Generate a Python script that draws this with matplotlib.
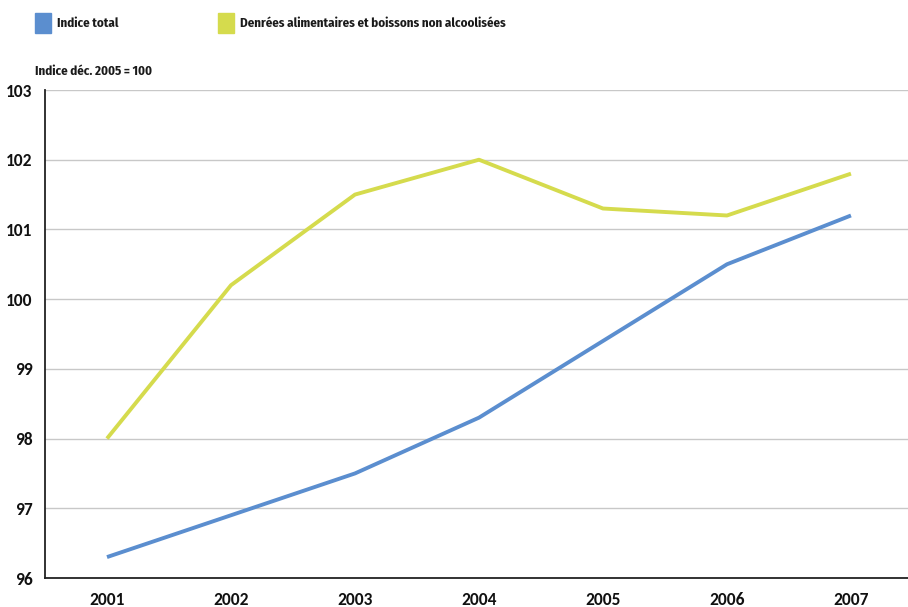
import matplotlib.pyplot as plt
from matplotlib.patches import Rectangle

years = ['2001', '2002', '2003', '2004', '2005', '2006', '2007']
indice_total = [96.3, 96.9, 97.5, 98.3, 99.4, 100.5, 101.2]
alimentaire = [98.0, 100.2, 101.5, 102.0, 101.3, 101.2, 101.8]
y_ticks = list(range(96, 104))

blue = '#5b8ecf'
yellow = '#d5db4d'
head_font = ['Fira Sans Condensed', 'DejaVu Sans']

plt.rcParams['font.family'] = ['Carlito', 'DejaVu Sans']

fig = plt.figure(figsize=(9.08, 6.07), dpi=100)
ax = fig.add_axes([45 / 908, 29 / 607, 1 - 45 / 908, 488 / 607])

x = range(len(years))
ax.plot(x, indice_total, color=blue, lw=2.8, solid_capstyle='butt')
ax.plot(x, alimentaire, color=yellow, lw=2.8, solid_capstyle='butt')

ax.set_xlim(-0.5, 6.46)
ax.set_ylim(96, 103)
ax.set_yticks(y_ticks)
ax.set_yticklabels([str(v) for v in y_ticks], fontweight='bold', fontsize=12.5)
ax.set_xticks(list(x))
ax.set_xticklabels(years, fontweight='bold', fontsize=12.5)
ax.grid(axis='y', color='#c8c8c8', lw=1)
ax.set_axisbelow(True)
for s in ['top', 'right']:
    ax.spines[s].set_visible(False)
ax.spines['left'].set_color('#222222')
ax.spines['bottom'].set_color('#222222')
ax.spines['left'].set_linewidth(1.3)
ax.spines['bottom'].set_linewidth(1.3)
ax.tick_params(length=0, colors='#111111')
ax.tick_params(axis='y', pad=9)
ax.tick_params(axis='x', pad=10)

# legend drawn by hand at the top
fig.patches.append(Rectangle((35 / 908, 1 - 33 / 607), 16 / 908, 20 / 607,
                             transform=fig.transFigure, color=blue))
fig.patches.append(Rectangle((218 / 908, 1 - 33 / 607), 16 / 908, 20 / 607,
                             transform=fig.transFigure, color=yellow))
fig.text(57 / 908, 1 - 23 / 607, 'Indice total', fontsize=9.3, fontweight='bold',
         va='center', color='#1a1a1a', family=head_font)
fig.text(240 / 908, 1 - 23 / 607, 'Denrées alimentaires et boissons non alcoolisées',
         fontsize=9.3, fontweight='bold', va='center', color='#1a1a1a', family=head_font)
fig.text(35 / 908, 1 - 71 / 607, 'Indice déc. 2005 = 100', fontsize=9.3,
         fontweight='bold', va='center', color='#1a1a1a', family=head_font)

fig.savefig('out.png', dpi=100)
